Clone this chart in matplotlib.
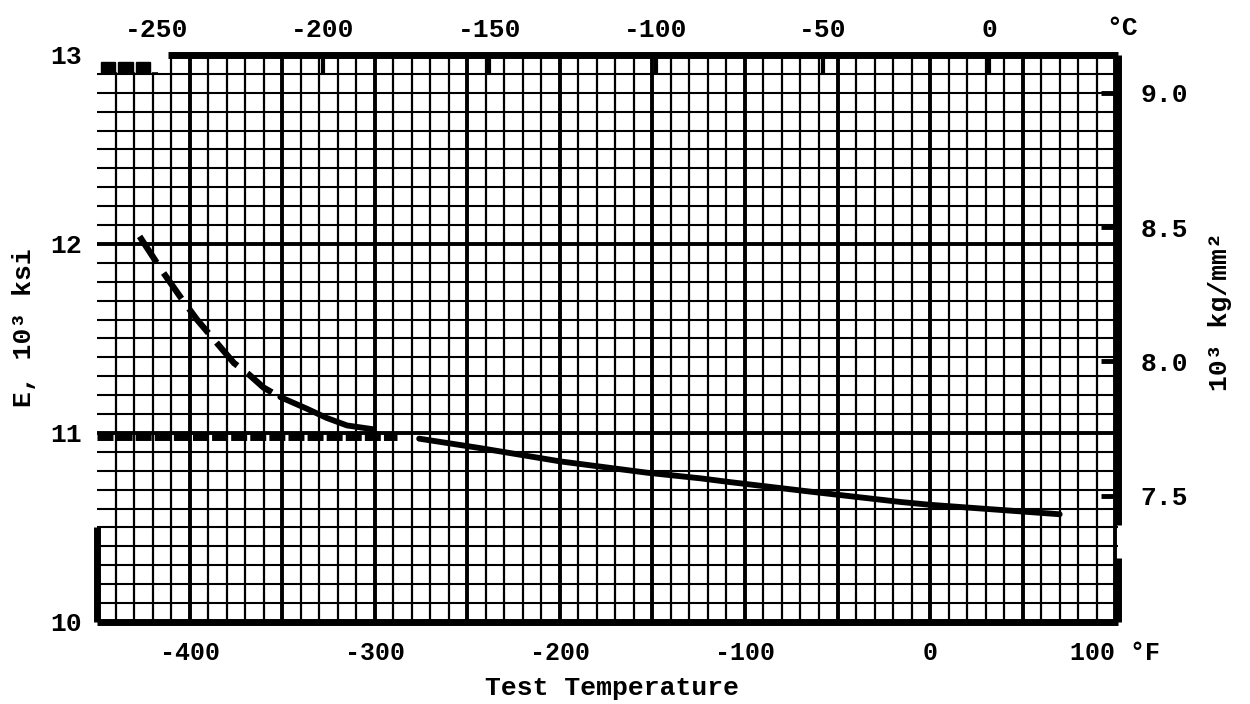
import numpy as np
import matplotlib.pyplot as plt
from matplotlib.patches import Rectangle

# -----------------------------
# Data (E vs test temperature)
# -----------------------------
temp_dashed = [-427, -415, -405, -396, -383, -376, -368, -360, -351]
e_dashed = [12.04, 11.86, 11.72, 11.60, 11.45, 11.37, 11.31, 11.24, 11.19]

temp_solid = [-351, -337, -326, -315, -301, np.nan,
              -276, -243, -200, -153, -124, -108, -65, -16, 0, 70]
e_solid = [11.19, 11.13, 11.08, 11.04, 11.02, np.nan,
           10.97, 10.92, 10.85, 10.79, 10.76, 10.74, 10.69, 10.635, 10.62, 10.57]

temp_flat = [-450, -288]
e_flat = [10.98, 10.98]

f_ticks = [-400, -300, -200, -100, 0, 100]
f_labels = ["-400", "-300", "-200", "-100", "0", "100 °F"]
c_ticks = [-250, -200, -150, -100, -50, 0]
c_labels = ["-250", "-200", "-150", "-100", "-50", "0"]
e_ticks = [10, 11, 12, 13]
kg_ticks = [7.5, 8.0, 8.5, 9.0]
kg_labels = ["7.5", "8.0", "8.5", "9.0"]

KSI_TO_KG = 0.70307

plt.rcParams['font.family'] = ['Liberation Mono', 'DejaVu Sans Mono']
plt.rcParams['font.weight'] = 'bold'

fig = plt.figure(figsize=(12.5, 7.04), dpi=100)
ax = fig.add_axes([0.0776, 0.1165, 0.8168, 0.8054])
ax.set_xlim(-450, 101.5)
ax.set_ylim(10, 13)

# -----------------------------
# Graph paper grid
# -----------------------------
for v in np.arange(-440, 101, 10):
    lw = 2.8 if v % 50 == 0 else 1.6
    ax.axvline(v, color="black", lw=lw, zorder=1)
for h in np.arange(101, 130) / 10.0:
    lw = 2.8 if abs(h - round(h)) < 1e-6 else 1.5
    ax.axhline(h, color="black", lw=lw, zorder=1)

# -----------------------------
# Curves
# -----------------------------
ax.plot(temp_dashed, e_dashed, color="black", lw=4.5, dashes=(5, 2), zorder=3)
ax.plot(temp_solid, e_solid, color="black", lw=4.2, solid_capstyle="round",
        solid_joinstyle="round", zorder=3)
ax.plot(temp_flat, e_flat, color="black", lw=5, dashes=(2.3, 0.45), zorder=3)

# frame, drawn by hand (scan has broken edges)
for s in ax.spines.values():
    s.set_visible(False)
frame_kw = dict(color="black", lw=5, transform=ax.transAxes, clip_on=False, zorder=4,
                solid_capstyle="butt")
ax.plot([0.0695, 1], [1, 1], **frame_kw)
ax.plot([0, 1], [0, 0], **frame_kw)
ax.plot([1, 1], [0, 0.113], **frame_kw)
ax.plot([1, 1], [0.171, 1], **frame_kw)
ax.plot([0, 0], [0, 0.1675], **frame_kw)

# the inked corner top left: blank strip with three black squares
ax.add_patch(Rectangle((-451, 12.915), 39, 0.09, color="white", zorder=2, clip_on=False))
for x0 in [-448, -438.6, -429.0]:
    ax.add_patch(Rectangle((x0, 12.905), 7.8, 0.057, color="black", zorder=4))

# -----------------------------
# Axes ticks and labels
# -----------------------------
ax.set_xticks(f_ticks)
ax.set_xticklabels(f_labels)
ax.set_yticks(e_ticks)
ax.set_yticklabels([str(t) for t in e_ticks])
ax.tick_params(axis="x", length=0, pad=14, labelsize=18)
ax.tick_params(axis="y", length=0, pad=11, labelsize=19)

secx = ax.secondary_xaxis("top", functions=(lambda f: (f - 32) * 5 / 9, lambda c: c * 9 / 5 + 32))
secx.set_xticks(c_ticks)
secx.set_xticklabels(c_labels)
secx.tick_params(direction="in", length=13, width=3, pad=9, labelsize=19)
for s in secx.spines.values():
    s.set_visible(False)

secy = ax.secondary_yaxis("right", functions=(lambda e: e * KSI_TO_KG, lambda k: k / KSI_TO_KG))
secy.set_yticks(kg_ticks)
secy.set_yticklabels(kg_labels)
secy.tick_params(direction="in", length=12, width=3.5, pad=16, labelsize=19)
for s in secy.spines.values():
    s.set_visible(False)

fig.text(1122 / 1250, 1 - 28 / 704, "°C", fontsize=19, ha="center", va="center")
fig.text(612 / 1250, 1 - 688 / 704, "Test Temperature", fontsize=19, ha="center", va="center")
fig.text(24 / 1250, 1 - 328 / 704, "E, 10³ ksi", fontsize=19, rotation=90, ha="center", va="center")
fig.text(1220 / 1250, 1 - 312 / 704, "10³ kg/mm²", fontsize=19, rotation=90, ha="center", va="center")

fig.savefig("out.png", dpi=100)
